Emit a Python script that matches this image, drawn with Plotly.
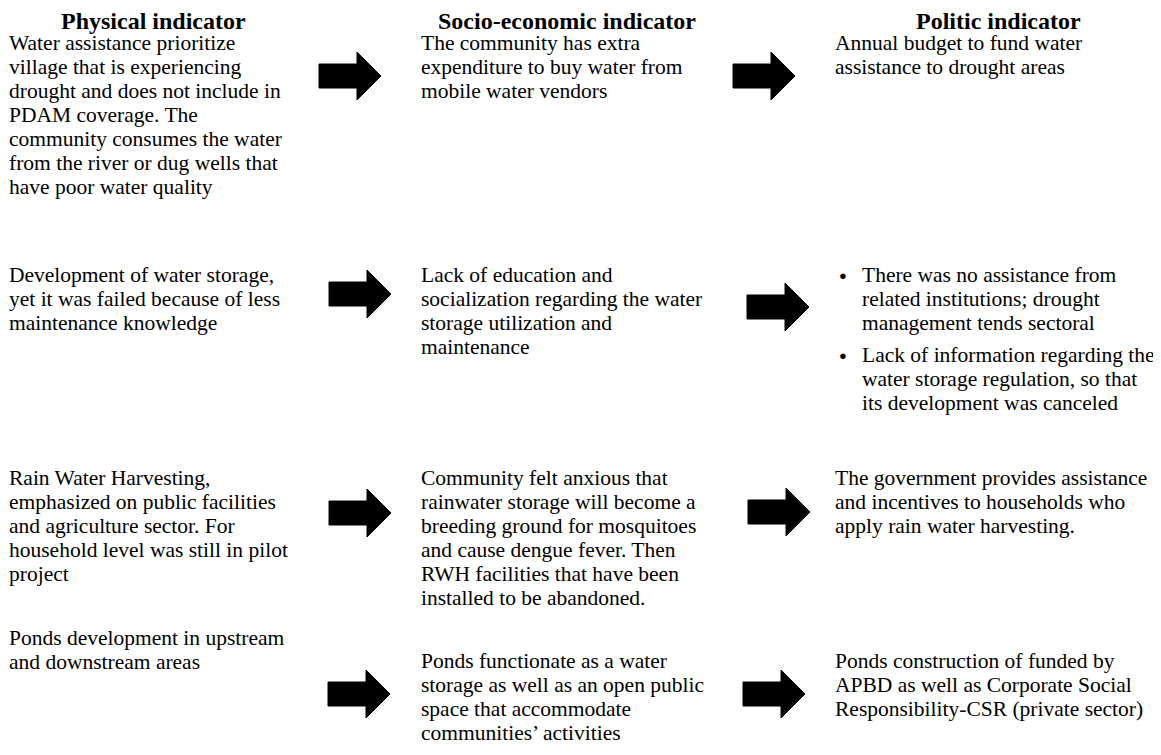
import plotly.graph_objects as go

# ---------------- data (text content) ----------------
headers = ["Physical indicator", "Socio-economic indicator", "Politic indicator"]

physical = [
    ["Water assistance prioritize", "village that is experiencing",
     "drought and does not include in", "PDAM coverage. The",
     "community consumes the water", "from the river or dug wells that",
     "have poor water quality"],
    ["Development of water storage,", "yet it was failed because of less",
     "maintenance knowledge"],
    ["Rain Water Harvesting,", "emphasized on public facilities",
     "and agriculture sector. For", "household level was still in pilot",
     "project"],
    ["Ponds development in upstream", "and downstream areas"],
]

socio = [
    ["The community has extra", "expenditure to buy water from",
     "mobile water vendors"],
    ["Lack of education and", "socialization regarding the water",
     "storage utilization and", "maintenance"],
    ["Community felt anxious that", "rainwater storage will become a",
     "breeding ground for mosquitoes", "and cause dengue fever. Then",
     "RWH facilities that have been", "installed to be abandoned."],
    ["Ponds functionate as a water", "storage as well as an open public",
     "space that accommodate", "communities\u2019 activities"],
]

politic = [
    [["Annual budget to fund water", "assistance to drought areas"]],
    [["There was no assistance from", "related institutions; drought",
      "management tends sectoral"],
     ["Lack of information regarding the", "water storage regulation, so that",
      "its development was canceled"]],
    [["The government provides assistance", "and incentives to households who",
      "apply rain water harvesting."]],
    [["Ponds construction of funded by", "APBD as well as Corporate Social",
      "Responsibility-CSR (private sector)"]],
]
politic_bulleted = [False, True, False, False]

# ---------------- layout constants ----------------
W, H = 1161, 755
PAGE_MARGIN = 8          # default <body> margin of the html page
FONT = "Liberation Serif"
BODY = 21.5
HEAD = 24
LINE_H = 24
BULLET_GAP = 8
TEXT_SHIFT = -2          # compensate annotation inner padding

col_x = [9, 421, 835]
header_cx = [153, 567, 998]
header_y = 21
row_y = [[43, 43, 43], [275, 275, 275], [478, 478, 478], [638, 661, 661]]
bullet_x, bullet_text_x = 843, 862

arrow_x = [[319, 733], [329, 747], [329, 748], [328, 743]]
arrow_cy = [[76, 76], [294, 307], [513, 512], [694, 694]]
ARROW_LEN, SHAFT_LEN, SHAFT_HALF, HEAD_HALF = 62, 38, 12, 24

annotations = []
shapes = []


def add_line(x, y, text, bold=False, anchor="left", size=BODY):
    annotations.append(dict(
        x=x, y=y, xref="x", yref="y", text=f"<b>{text}</b>" if bold else text,
        showarrow=False, xanchor=anchor, yanchor="middle", align="left",
        xshift=TEXT_SHIFT if anchor == "left" else 0,
        font=dict(family=FONT, size=size, color="black")))


for cx, h in zip(header_cx, headers):
    add_line(cx, header_y, h, bold=True, anchor="center", size=HEAD)

for r in range(4):
    for i, t in enumerate(physical[r]):
        add_line(col_x[0], row_y[r][0] + i * LINE_H, t)
    for i, t in enumerate(socio[r]):
        add_line(col_x[1], row_y[r][1] + i * LINE_H, t)
    y = row_y[r][2]
    for block in politic[r]:
        if politic_bulleted[r]:
            add_line(bullet_x, y, "\u25cf", anchor="center", size=13)
            tx = bullet_text_x
        else:
            tx = col_x[2]
        for t in block:
            add_line(tx, y, t)
            y += LINE_H
        y += BULLET_GAP

    for k in range(2):
        x0 = arrow_x[r][k]
        cy = arrow_cy[r][k]
        xb = x0 + SHAFT_LEN
        xt = x0 + ARROW_LEN
        path = (f"M {x0},{cy - SHAFT_HALF} L {xb},{cy - SHAFT_HALF} L {xb},{cy - HEAD_HALF} "
                f"L {xt},{cy} L {xb},{cy + HEAD_HALF} L {xb},{cy + SHAFT_HALF} "
                f"L {x0},{cy + SHAFT_HALF} Z")
        shapes.append(dict(type="path", path=path, xref="x", yref="y",
                           fillcolor="black", line=dict(color="black", width=1)))

fig = go.Figure()
fig.update_layout(
    width=W, height=H,
    margin=dict(l=0, r=0, t=0, b=0),
    paper_bgcolor="white", plot_bgcolor="white",
    # axis ranges shifted by the page margin so that coordinates equal screen pixels
    xaxis=dict(range=[PAGE_MARGIN, W + PAGE_MARGIN], visible=False, fixedrange=True),
    yaxis=dict(range=[H + PAGE_MARGIN, PAGE_MARGIN], visible=False, fixedrange=True),
    annotations=annotations, shapes=shapes, showlegend=False,
)
fig.write_html("out.html", config={"displayModeBar": False})
